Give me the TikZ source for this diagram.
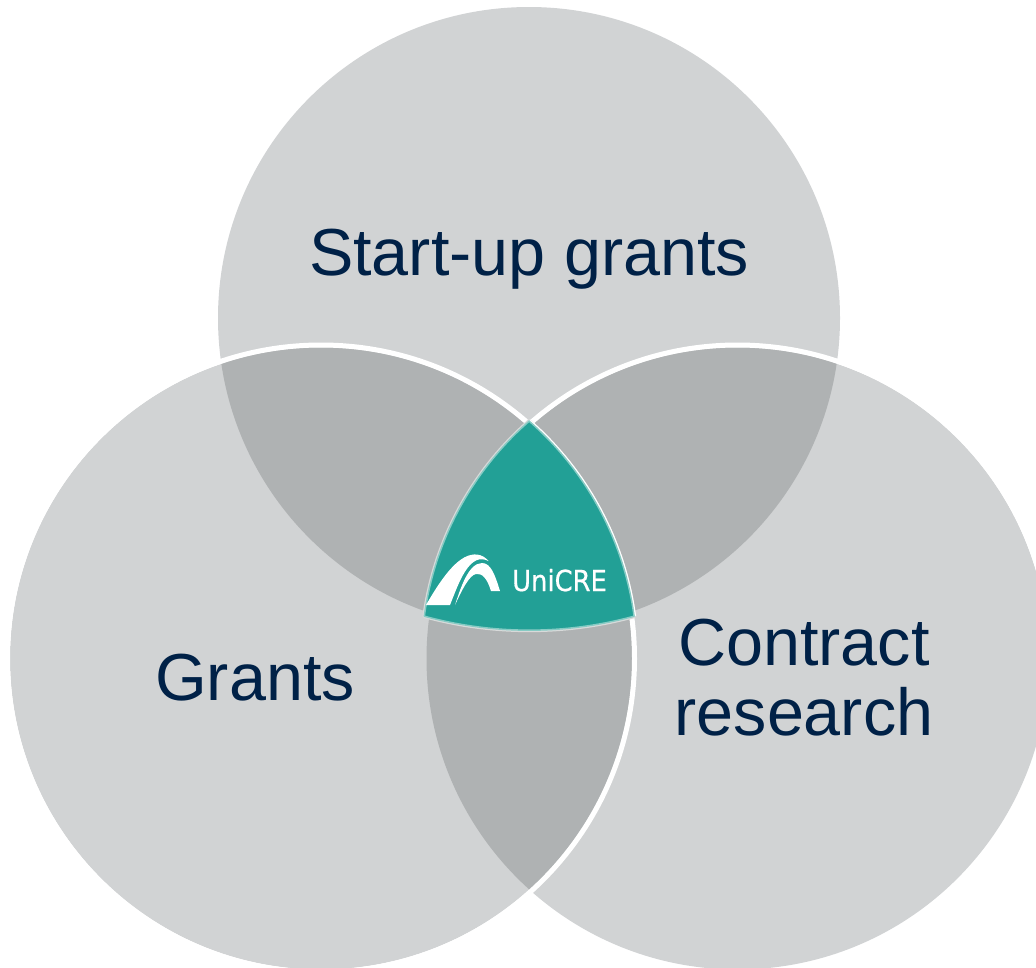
\documentclass[tikz,border=0pt]{standalone}
\usepackage{fontspec}
\setmainfont{Liberation Sans}
\newfontfamily\logofont[FakeBold=0.6]{DejaVu Sans}
\definecolor{circlegrey}{HTML}{D1D3D4}
\definecolor{lensgrey}{HTML}{AFB2B3}
\definecolor{teal1}{HTML}{22A096}
\definecolor{tealedge}{HTML}{86CBC4}
\definecolor{outeredge}{HTML}{D8DADA}
\definecolor{navy}{HTML}{002147}
\tikzset{
  venn/.style={fill=circlegrey,draw=none},
  lbl/.style={text=navy,font=\fontsize{66.5}{70}\selectfont,anchor=base,inner sep=0pt},
  band/.style={draw=white,line width=5pt}
}
\newcommand{\circT}{(529,318) circle[radius=311pt]}
\newcommand{\circL}{(321,658.5) circle[radius=311pt]}
\newcommand{\circR}{(737.5,658.5) circle[radius=311pt]}
\newcommand{\triPath}{(529,421) arc[start angle=-48.9,end angle=-7.7,radius=315pt]
   arc[start angle=74.8,end angle=105.2,radius=400pt]
   arc[start angle=187.7,end angle=228.9,radius=315pt] -- cycle}
\begin{document}
\begin{tikzpicture}[x=1pt,y=1pt,yscale=-1]
\useasboundingbox (0,0) rectangle (1036,967);
\path[venn] \circT; \path[venn] \circL; \path[venn] \circR;
% overlaps
\begin{scope}\clip \circT; \fill[lensgrey] \circL; \fill[lensgrey] \circR; \end{scope}
\begin{scope}\clip \circL; \fill[lensgrey] \circR; \end{scope}
% white bands: right circle, kept off the left circle; then the left circle
\begin{scope}
  \clip (529,300) rectangle (1036,600);
  \draw[band] (737.5,658.5) circle[radius=313.5pt];
\end{scope}
\draw[band] (321,658.5) circle[radius=313.5pt];
% centre
\draw[outeredge,line width=4pt,line join=round] \triPath;
\draw[white,line width=4pt] (529,421) arc[start angle=-48.9,end angle=-7.7,radius=315pt];
\draw[fill=teal1,draw=tealedge,line width=1.5pt,line join=round] \triPath;
% logo
\fill[white] (426,605) .. controls (444,574) and (460,553) .. (477,554.5)
  .. controls (482,555) and (486,558) .. (488.5,561)
  .. controls (480,557) and (472,559) .. (463,575)
  .. controls (458,584) and (454,595) .. (450,605) -- cycle;
\fill[white] (455,605) .. controls (460,590) and (468,563) .. (482,563)
  .. controls (491,563) and (495,575) .. (500,591) -- (491,591)
  .. controls (487,578) and (482,573) .. (476,574)
  .. controls (469,575) and (461,592) .. (455,605) -- cycle;
\node[text=white,inner sep=0pt,anchor=base,xscale=.89] (logo) at (559.5,591) {\logofont\fontsize{29}{29}\selectfont UniCRE};
% labels
\node[lbl] (startup) at (529,275) {Start-up grants};
\node[lbl] (grants) at (255,700) {Grants};
\node[lbl] (contract) at (804,665) {Contract};
\node[lbl] (research) at (804,735) {research};
\end{tikzpicture}
\end{document}
